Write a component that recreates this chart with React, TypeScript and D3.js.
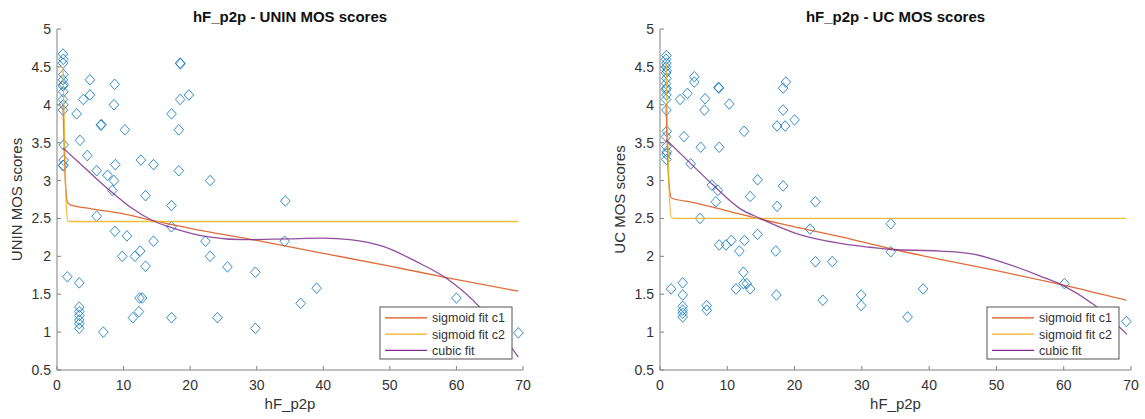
import React from "react";
import * as d3 from "d3";

// ---------- DATA ----------
const xTicks = [0, 10, 20, 30, 40, 50, 60, 70];
const yTicks = [0.5, 1, 1.5, 2, 2.5, 3, 3.5, 4, 4.5, 5];
const legendLabels = ["sigmoid fit c1", "sigmoid fit c2", "cubic fit"];

// UNIN MOS scores (hF_p2p, score)
const uninPoints: [number, number][] = [
  [0.9, 4.67], [0.95, 4.6], [0.9, 4.55], [0.95, 4.4], [0.9, 4.33], [1.0, 4.27], [0.9, 4.25],
  [0.95, 4.17], [0.9, 4.07], [0.95, 4.0], [0.9, 3.93], [1.0, 3.47], [1.0, 3.27], [0.9, 3.2], [0.95, 3.2],
  [1.55, 1.73], [2.95, 3.88], [3.35, 1.65], [3.35, 1.33], [3.35, 1.27], [3.35, 1.22], [3.35, 1.16],
  [3.35, 1.11], [3.35, 1.05], [3.45, 3.53], [3.95, 4.07], [4.55, 3.33], [4.95, 4.33], [4.95, 4.13],
  [5.96, 3.13], [5.96, 2.53], [6.6, 3.73], [6.65, 3.74], [6.96, 1.0], [7.6, 3.07], [8.3, 2.87],
  [8.56, 3.0], [8.56, 4.0], [8.66, 4.27], [8.7, 2.33], [8.76, 3.21], [9.8, 2.0], [10.2, 3.67],
  [10.5, 2.27], [11.4, 1.19], [11.7, 2.0], [12.3, 1.27], [12.4, 1.45], [12.5, 2.07], [12.6, 3.27],
  [12.8, 1.45], [13.3, 2.8], [13.3, 1.87], [14.5, 3.21], [14.5, 2.2], [17.2, 3.88], [17.2, 2.67],
  [17.2, 2.39], [17.2, 1.19], [18.3, 3.67], [18.3, 3.13], [18.5, 4.55], [18.55, 4.54], [18.5, 4.07],
  [19.8, 4.13], [22.3, 2.2], [23.0, 3.0], [23.0, 2.0], [24.1, 1.19], [25.6, 1.86], [29.8, 1.79],
  [29.8, 1.05], [34.3, 2.73], [34.2, 2.2], [36.6, 1.38], [39.0, 1.58], [60.0, 1.45], [69.3, 0.99],
];
const uninSigC1: [number, number][] = [
  [0.9, 4.0], [1.2, 3.1], [1.55, 2.72], [2, 2.68], [5, 2.63], [10, 2.56], [14.5, 2.47], [20, 2.37],
  [30, 2.21], [40, 2.04], [50, 1.87], [58.5, 1.72], [69.3, 1.54],
];
const uninSigC2: [number, number][] = [
  [0.9, 4.5], [1.3, 2.9], [1.6, 2.47], [2.0, 2.46], [69.3, 2.46],
];
const uninCubic: [number, number][] = [
  [0.9, 3.43], [3.9, 3.19], [6.46, 2.98], [9.0, 2.79], [11.0, 2.65], [14.4, 2.47], [17.2, 2.38],
  [22.5, 2.26], [28, 2.22], [34.5, 2.23], [40, 2.24], [44, 2.22], [49, 2.13], [54, 1.93],
  [58.5, 1.71], [63.5, 1.33], [69.3, 0.67],
];

// UC MOS scores (hF_p2p, score)
const ucPoints: [number, number][] = [
  [0.95, 4.65], [0.9, 4.6], [0.95, 4.55], [0.9, 4.5], [1.0, 4.45], [0.9, 4.42], [0.95, 4.35],
  [0.9, 4.28], [0.95, 4.22], [0.9, 4.2], [0.95, 4.13], [0.9, 4.07], [0.95, 3.93], [1.0, 3.65],
  [0.9, 3.58], [0.95, 3.45], [1.0, 3.38], [0.95, 3.35], [0.95, 3.28],
  [1.64, 1.57], [2.98, 4.07], [3.37, 1.65], [3.37, 1.49], [3.37, 1.34], [3.37, 1.29], [3.37, 1.25],
  [3.37, 1.2], [3.57, 3.58], [4.07, 4.15], [4.56, 3.22], [5.1, 4.37], [5.1, 4.3], [5.95, 2.5],
  [6.05, 3.44], [6.6, 3.93], [6.7, 4.08], [6.95, 1.35], [6.95, 1.29], [7.7, 2.94], [8.3, 2.72],
  [8.6, 2.87], [8.7, 4.23], [8.75, 4.22], [8.8, 3.44], [8.8, 2.15], [9.8, 2.15], [10.3, 4.01],
  [10.6, 2.21], [11.3, 1.57], [11.8, 2.07], [12.4, 1.79], [12.4, 1.64], [12.5, 3.65], [12.55, 2.21],
  [12.9, 1.64], [13.4, 2.79], [13.4, 1.57], [14.5, 3.01], [14.5, 2.29], [17.2, 2.07], [17.3, 1.49],
  [17.4, 3.72], [17.4, 2.66], [18.3, 4.22], [18.3, 3.93], [18.3, 2.93], [18.6, 3.72], [18.7, 4.3],
  [20.0, 3.8], [22.3, 2.36], [23.1, 2.72], [23.1, 1.93], [24.2, 1.42], [25.6, 1.93], [29.9, 1.49],
  [29.9, 1.35], [34.3, 2.43], [34.3, 2.06], [36.8, 1.2], [39.1, 1.57], [60.1, 1.64], [69.3, 1.14],
];
const ucSigC1: [number, number][] = [
  [0.9, 4.0], [1.3, 3.0], [1.7, 2.77], [5, 2.71], [10, 2.6], [14.5, 2.5], [20, 2.39], [26.8, 2.26],
  [34.3, 2.1], [40, 1.99], [50, 1.81], [60, 1.62], [69.3, 1.42],
];
const ucSigC2: [number, number][] = [
  [0.9, 4.55], [1.3, 3.0], [1.7, 2.51], [2.2, 2.5], [69.3, 2.5],
];
const ucCubic: [number, number][] = [
  [0.9, 3.54], [4.5, 3.23], [7.9, 2.94], [11.9, 2.63], [14.9, 2.5], [20.3, 2.3], [26.8, 2.17],
  [31.2, 2.12], [34.3, 2.09], [41.7, 2.07], [46.6, 2.03], [51.6, 1.9], [56.5, 1.74], [60, 1.61],
  [64.5, 1.36], [69.4, 0.97],
];

// ---------- STYLE ----------
const C_BLUE = "#0072BD";
const C_ORANGE = "#D95319";
const C_YELLOW = "#EDB120";
const C_PURPLE = "#7E2F8E";
const AXIS = "#808080";
const TXT = "#333333";
const FONT = "Arial, 'Liberation Sans', Helvetica, sans-serif";

type PanelProps = {
  x0: number;
  x1: number;
  title: string;
  yLabel: string;
  yLabelX: number;
  points: [number, number][];
  c1: [number, number][];
  c2: [number, number][];
  cubic: [number, number][];
  legendX: number;
};

const Y_TOP = 29;
const Y_BOT = 370;

function Panel(p: PanelProps) {
  const x = d3.scaleLinear().domain([0, 70]).range([p.x0, p.x1]);
  const y = d3.scaleLinear().domain([0.5, 5]).range([Y_BOT, Y_TOP]);
  const line = d3
    .line<[number, number]>()
    .x((d) => x(d[0]))
    .y((d) => y(d[1]))
    .curve(d3.curveMonotoneX);
  const cx = (p.x0 + p.x1) / 2;
  const clipId = `clip-${p.x0}`;
  const lg = { x: p.legendX, y: 307, w: 132, h: 52 };
  const series = [
    { c: C_ORANGE, d: p.c1 },
    { c: C_YELLOW, d: p.c2 },
    { c: C_PURPLE, d: p.cubic },
  ];
  return (
    <g>
      <defs>
        <clipPath id={clipId}>
          <rect x={p.x0} y={Y_TOP} width={p.x1 - p.x0} height={Y_BOT - Y_TOP} />
        </clipPath>
      </defs>
      {/* markers */}
      <g>
        {p.points.map((d, i) => (
          <path
            key={i}
            d="M0,-5.3 L4.8,0 L0,5.3 L-4.8,0 Z"
            transform={`translate(${x(d[0])},${y(d[1])})`}
            fill="none"
            stroke={C_BLUE}
            strokeOpacity={0.8}
            strokeWidth={1}
          />
        ))}
      </g>
      {/* fit lines */}
      <g clipPath={`url(#${clipId})`}>
        {series.map((s, i) => (
          <path key={i} d={line(s.d) || ""} fill="none" stroke={s.c} strokeWidth={1.3} strokeOpacity={0.85} />
        ))}
      </g>
      {/* axes */}
      <line x1={p.x0} x2={p.x1} y1={Y_BOT} y2={Y_BOT} stroke={AXIS} strokeWidth={1} />
      <line x1={p.x0} x2={p.x0} y1={Y_TOP} y2={Y_BOT} stroke={AXIS} strokeWidth={1} />
      {xTicks.map((t) => (
        <g key={`x${t}`}>
          <line x1={x(t)} x2={x(t)} y1={Y_BOT} y2={Y_BOT - 4} stroke={AXIS} />
          <text x={x(t)} y={390} textAnchor="middle" fontSize={14} fill={TXT} fontFamily={FONT}>
            {t}
          </text>
        </g>
      ))}
      {yTicks.map((t) => (
        <g key={`y${t}`}>
          <line x1={p.x0} x2={p.x0 + 4} y1={y(t)} y2={y(t)} stroke={AXIS} />
          <text x={p.x0 - 6} y={y(t) + 5} textAnchor="end" fontSize={14} fill={TXT} fontFamily={FONT}>
            {t}
          </text>
        </g>
      ))}
      {/* labels */}
      <text x={cx} y={22} textAnchor="middle" fontSize={15} fontWeight="bold" fill="#111" fontFamily={FONT}>
        {p.title}
      </text>
      <text x={cx} y={409} textAnchor="middle" fontSize={15} fill={TXT} fontFamily={FONT}>
        hF_p2p
      </text>
      <text
        transform={`translate(${p.yLabelX},${(Y_TOP + Y_BOT) / 2}) rotate(-90)`}
        textAnchor="middle"
        fontSize={15}
        fill={TXT}
        fontFamily={FONT}
      >
        {p.yLabel}
      </text>
      {/* legend */}
      <rect x={lg.x} y={lg.y} width={lg.w} height={lg.h} fill="#fff" stroke="#555" strokeWidth={1} />
      {legendLabels.map((lab, i) => {
        const ry = lg.y + 10.8 + i * 16.3;
        return (
          <g key={lab}>
            <line x1={lg.x + 5} x2={lg.x + 47} y1={ry} y2={ry} stroke={series[i].c} strokeWidth={1.3} />
            <text x={lg.x + 52} y={ry + 4.5} fontSize={12.5} fill={TXT} fontFamily={FONT}>
              {lab}
            </text>
          </g>
        );
      })}
    </g>
  );
}

export default function App() {
  return (
    <svg
      width={1145}
      height={419}
      style={{ position: "absolute", left: 0, top: 0, background: "#fff" }}
    >
      <rect width={1145} height={419} fill="#fff" />
      <Panel
        x0={57}
        x1={523}
        title="hF_p2p - UNIN MOS scores"
        yLabel="UNIN MOS scores"
        yLabelX={22}
        points={uninPoints}
        c1={uninSigC1}
        c2={uninSigC2}
        cubic={uninCubic}
        legendX={380}
      />
      <Panel
        x0={660}
        x1={1131}
        title="hF_p2p - UC MOS scores"
        yLabel="UC MOS scores"
        yLabelX={625}
        points={ucPoints}
        c1={ucSigC1}
        c2={ucSigC2}
        cubic={ucCubic}
        legendX={987}
      />
    </svg>
  );
}
